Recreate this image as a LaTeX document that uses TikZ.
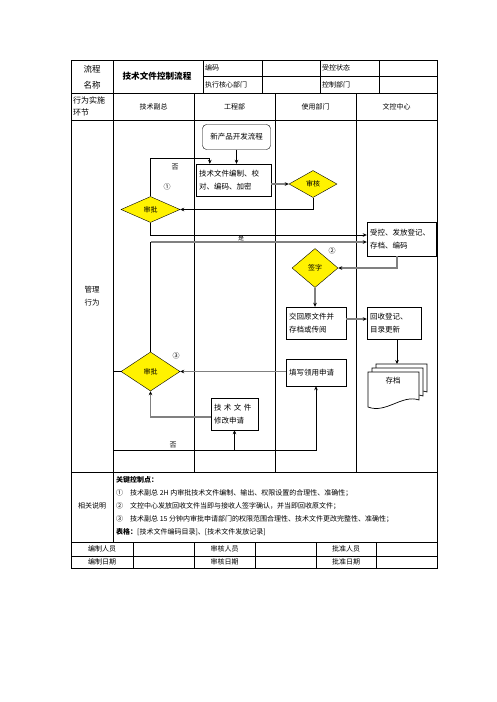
\documentclass[tikz,border=0pt]{standalone}
\usepackage{fontspec}
\setmainfont{Noto Sans CJK SC}
\usepackage{tikz}
\usetikzlibrary{arrows.meta,shapes.geometric}

\begin{document}
\begin{tikzpicture}[x=1pt,y=-1pt,>={Stealth[length=4pt,width=3.6pt,color=black]},
  box/.style={draw,fill=white,inner sep=2pt,align=left,font=\fontsize{7.5}{13}\selectfont},
  dec/.style={diamond,draw,fill=yellow,inner sep=0pt,font=\fontsize{7}{8}\selectfont},
  cell/.style={inner sep=0pt,font=\fontsize{7}{9}\selectfont},
  lab/.style={inner sep=0pt,font=\fontsize{7}{8}\selectfont},
  gline/.style={draw=black!50,line width=1.6pt}]
  \useasboundingbox (0,0) rectangle (496,702);

  % table
  \draw[line width=0.8pt] (71,60) rectangle (437,568);
  \draw[line width=0.8pt] (203,76.5) -- (437,76.5);
  \foreach \y in {93,120,472,542,556}
    \draw[line width=0.8pt] (71,\y) -- (437,\y);
  \foreach \x in {203,262,320,379}
    \draw[line width=0.8pt] (\x,60) -- (\x,93);
  \draw[line width=0.8pt] (113,60) -- (113,542);
  \foreach \x in {194,275,356}
    \draw[line width=0.8pt] (\x,93) -- (\x,472);
  \foreach \x in {133,194,255,316,376}
    \draw[line width=0.8pt] (\x,542) -- (\x,568);

  % header
  \node[cell,align=center,font=\fontsize{8.5}{16}\selectfont] (t0) at (92,77) {流程\\名称};
  \node[cell,font=\bfseries\fontsize{8.6}{10}\selectfont] (t1) at (157,76.5) {技术文件控制流程};
  \node[cell,anchor=west] (t2) at (205,68) {编码};
  \node[cell,anchor=west] (t3) at (205,84.5) {执行核心部门};
  \node[cell,anchor=west] (t4) at (322,68) {受控状态};
  \node[cell,anchor=west] (t5) at (322,84.5) {控制部门};
  \node[cell,anchor=west,align=left,font=\fontsize{8}{12}\selectfont] (t6) at (73,106.5) {行为实施\\环节};
  \node[cell] (t7) at (153.5,106.5) {技术副总};
  \node[cell] (t8) at (234.5,106.5) {工程部};
  \node[cell] (t9) at (315.5,106.5) {使用部门};
  \node[cell] (t10) at (396.5,106.5) {文控中心};
  \node[cell,align=center,font=\fontsize{7.5}{13}\selectfont] (t11) at (92,296.5) {管理\\行为};

  % flow
  \node[box,rounded corners=4pt,align=center,minimum width=68pt,minimum height=25pt] (n0) at (236.5,137) {新产品开发流程};
  \node[box,minimum width=75pt,minimum height=32pt,text width=69pt] (n1) at (233.5,180) {技术文件编制、校\\对、编码、加密};
  \node[dec,minimum width=48pt,minimum height=27pt] (d1) at (313,184) {审核};
  \node[dec,minimum width=59pt,minimum height=26pt] (d2) at (150.5,209.5) {审批};
  \node[box,minimum width=69pt,minimum height=34pt,text width=63pt] (n2) at (401.5,239) {受控、发放登记、\\存档、编码};
  \node[dec,minimum width=46pt,minimum height=39pt] (d3) at (315,268) {签字};
  \node[box,minimum width=60pt,minimum height=32pt,text width=54pt] (n3) at (316,323) {交回原文件并\\存档或传阅};
  \node[box,minimum width=54pt,minimum height=32pt,text width=48pt] (n4) at (394,323) {回收登记、\\目录更新};
  \node[box,minimum width=60pt,minimum height=27pt,text width=54pt] (n6) at (316,372.5) {填写领用申请};
  \node[dec,minimum width=59pt,minimum height=39pt] (d4) at (150.5,371.5) {审批};
  \node[box,minimum width=47pt,minimum height=32pt,text width=41pt] (n7) at (234.5,414) {技 术 文 件\\修改申请};

  % archive pages
  \foreach \d in {8,4,0}
    \draw[fill=white,line width=0.7pt] (368+\d,372-\d) -- (419+\d,372-\d) -- (419+\d,400-\d)
      .. controls (402+\d,394-\d) and (386+\d,414-\d) .. (368+\d,407-\d) -- cycle;
  \node[lab,font=\fontsize{7.5}{8}\selectfont] (n5) at (393,381) {存档};
  \coordinate (n5t) at (397,364);

  \coordinate (c1) at (150.5,242);
  \coordinate (c2) at (113,371.5);
  \coordinate (c3) at (113,450);

  % connectors
  \draw[->,line width=0.8pt] (n0) -- (n0 |- n1.north);
  \draw[->,line width=0.8pt] (d2.north) -- (d2.north |- 0,158) -| ([xshift=14pt]n1.north west);
  \draw[gline,->] (n1.east |- d1) -- (d1.west);
  \draw[->,line width=0.8pt] (d1.south) |- (d2.east);
  \draw[->,line width=0.8pt] (d2.south) |- (n2.west |- 0,235);
  \draw[line width=0.8pt] (d4.north) -- (c1);
  \draw[gline,->] (c1) -- (n2.west |- c1);
  \draw[gline,->] ([xshift=-4.5pt]n2.south) |- (d3.east);
  \draw[gline,->] (d3.south) -- (d3.south |- n3.north);
  \draw[gline,->] ([yshift=4pt]n3.east) -- ([yshift=4pt]n4.west);
  \draw[->,line width=0.8pt] ([xshift=3pt]n4.south) -- (n5t);
  \draw[gline,->] (n6.west |- d4.east) -- (d4.east);
  \draw[line width=0.8pt] (c2) -- (d4.west);
  \draw[gline,->] ([yshift=-3pt]n7.west) -| (d4.south);
  \draw[->,line width=0.8pt] (c3) -| (n6.south);
  \draw[->,line width=0.8pt] (c3 -| n7.south) -- (n7.south);

  % labels
  \node[lab] (l1) at (175,167) {否};
  \node[lab] (l2) at (167,187) {①};
  \node[lab,font=\fontsize{6}{7}\selectfont] (l3) at (241,238.5) {是};
  \node[lab] (l4) at (332,251) {②};
  \node[lab] (l5) at (176,356) {③};
  \node[lab] (l6) at (173,445) {否};

  % notes
  \node[cell] (r5) at (92,506) {相关说明};
  \node[cell,anchor=west] (r0) at (116,480) {\bfseries 关键控制点：};
  \node[cell,anchor=west] (r1) at (116,493) {①\hspace{7pt}技术副总 2H 内审批技术文件编制、输出、权限设置的合理性、准确性；};
  \node[cell,anchor=west] (r2) at (116,506) {②\hspace{7pt}文控中心发放回收文件当即与接收人签字确认，并当即回收原文件；};
  \node[cell,anchor=west] (r3) at (116,519) {③\hspace{7pt}技术副总 15 分钟内审批申请部门的权限范围合理性、技术文件更改完整性、准确性；};
  \node[cell,anchor=west] (r4) at (116,532.5) {{\bfseries 表格：}[技术文件编码目录]、[技术文件发放记录]};

  % sign rows
  \node[cell] (b0) at (102,549) {编制人员};
  \node[cell] (b1) at (224.5,549) {审核人员};
  \node[cell] (b2) at (346,549) {批准人员};
  \node[cell] (b3) at (102,562) {编制日期};
  \node[cell] (b4) at (224.5,562) {审核日期};
  \node[cell] (b5) at (346,562) {批准日期};
\end{tikzpicture}
\end{document}
